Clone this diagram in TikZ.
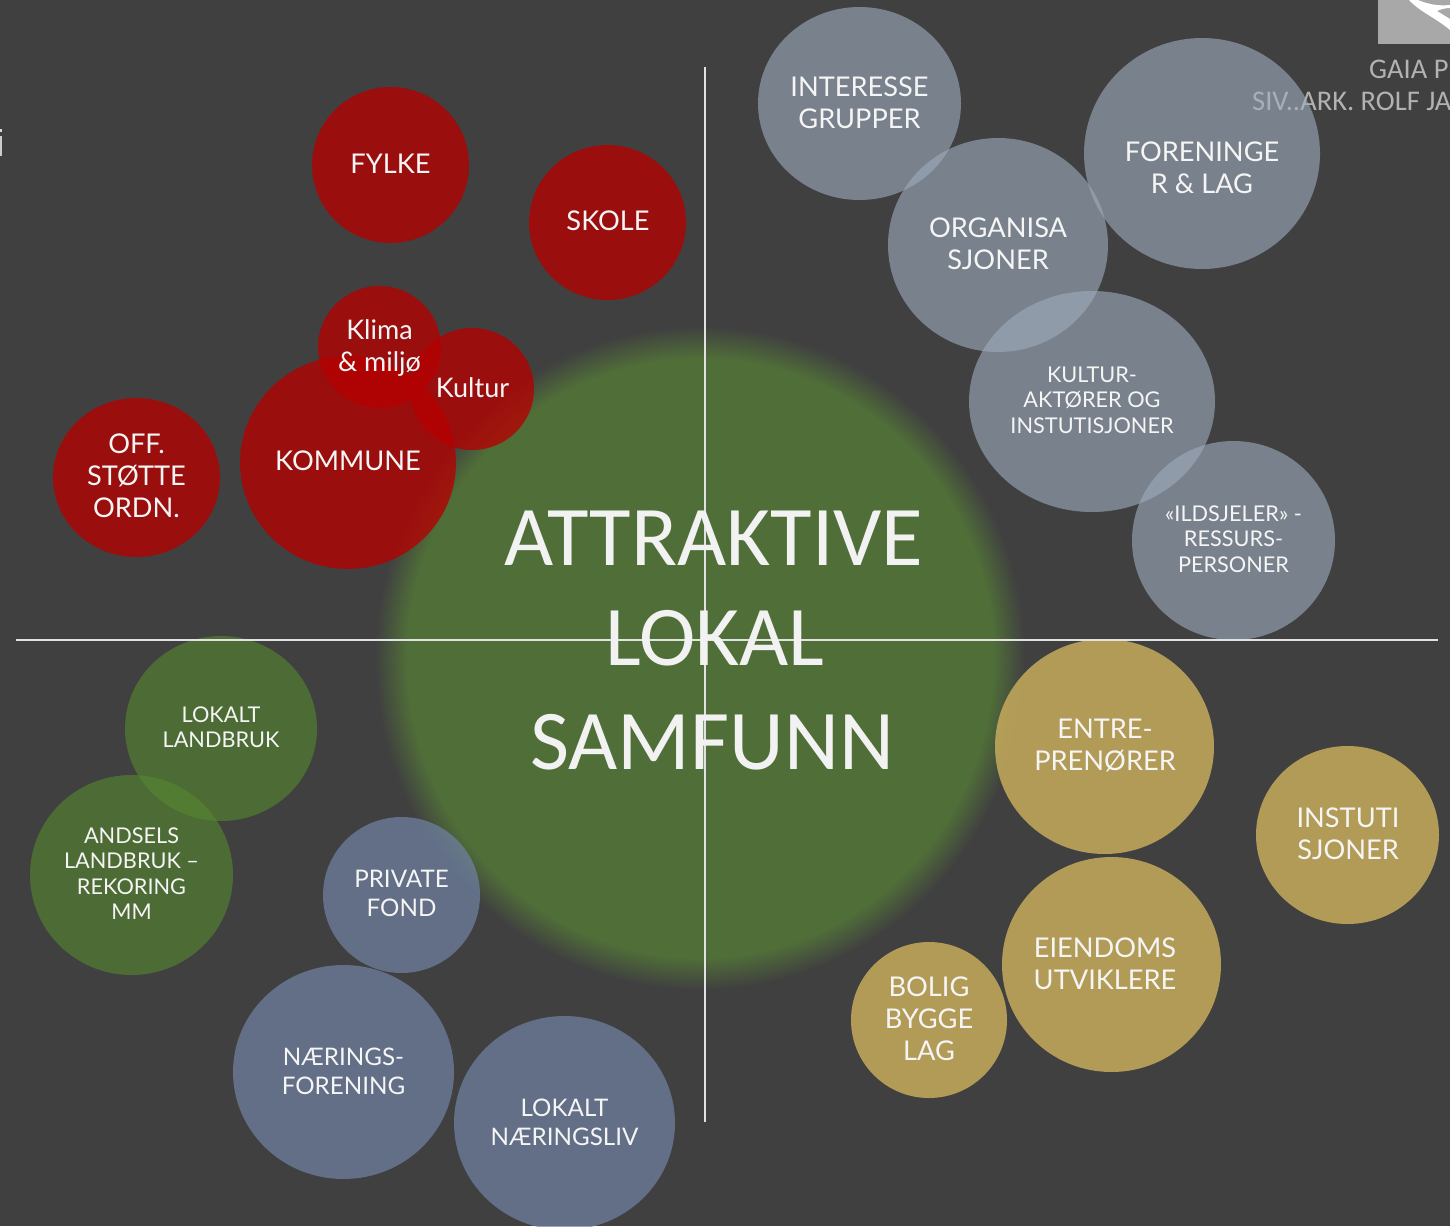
\documentclass[tikz,border=0pt]{standalone}
\usepackage{fontspec}
\setmainfont{Lato}
\newfontfamily\carl{Carlito}
\usetikzlibrary{shapes.geometric}
\definecolor{bgc}{HTML}{404040}
\definecolor{bigg}{HTML}{506F38}
\definecolor{redb}{HTML}{B50000}
\definecolor{greyb}{HTML}{A0ADBF}
\definecolor{greenb}{HTML}{56882F}
\definecolor{blueb}{HTML}{7183A6}
\definecolor{goldb}{HTML}{C6AB5C}
\pgfdeclareradialshading{glow}{\pgfpoint{0bp}{0bp}}{color(0bp)=(bigg); color(22.5bp)=(bigg); color(25bp)=(bgc); color(50bp)=(bgc)}
\tikzset{
  x=1pt,y=-1pt,
  bub/.style={ellipse,draw=none,inner sep=0pt,outer sep=0pt},
  redbub/.style={bub,fill=redb,fill opacity=.78},
  greybub/.style={bub,fill=greyb,fill opacity=.6},
  greenbub/.style={bub,fill=greenb,fill opacity=.6},
  bluebub/.style={bub,fill=blueb,fill opacity=.7},
  goldbub/.style={bub,fill=goldb,fill opacity=.85},
  lab/.style={text=white!96!black,align=center,inner sep=0pt},
  lablg/.style={lab,font=\fontsize{27.2}{32}\selectfont},
  labmd/.style={lab,font=\fontsize{24.2}{29}\selectfont},
  labkl/.style={lab,font=\fontsize{27}{32}\selectfont},
  labsm/.style={lab,font=\fontsize{21.7}{25.5}\selectfont},
  axis/.style={draw=white!85!bgc,line width=1.2pt},
  bigtext/.style={text=white!95!black,inner sep=0pt,font=\carl\fontsize{85}{85}\selectfont},
  corner/.style={text=white!70!black,inner sep=0pt,anchor=base west,font=\carl\fontsize{28.5}{28.5}\selectfont}
}
\newcommand{\bubble}[5]{\node[#1,minimum width=#4,minimum height=#5] (#2) at (#3) {};}
\begin{document}
\begin{tikzpicture}
\useasboundingbox (0,0) rectangle (1450,1226);
\clip (0,0) rectangle (1450,1226);
\fill[bgc] (0,0) rectangle (1450,1226);
% corner marks
\fill[white!66!black] (1378,0) rectangle (1450,44);
\fill[white] (1409,0) .. controls (1420,12) and (1436,18) .. (1450,30) -- (1450,19) -- (1437,11) .. controls (1441,9) and (1446,8) .. (1450,8) -- (1450,5) .. controls (1440,6) and (1430,5) .. (1418,0) -- cycle;
\fill[white!80!black] (0,136) rectangle (1.5,156);
\fill[white!85!black] (0,129) rectangle (1.5,132);
\node[corner] (gaia) at (1369,78) {GAIA PI};
\node[corner] (siv) at (1252,110) {SIV..ARK. ROLF JA};
% central glow
\path[shading=glow] (700,658) ellipse [x radius=325,y radius=332];
\coordinate (vt) at (705,67);
\coordinate (vb) at (705,1122);
\coordinate (hl) at (16,640);
\coordinate (hr) at (1438,640);
% circles
\bubble{greybub}{interesse}{859.5,103.5}{203pt}{193pt}
\bubble{greybub}{organisa}{998,245}{220pt}{214pt}
\bubble{greybub}{foreninger}{1202,153.5}{236pt}{231pt}
\bubble{greybub}{kulturakt}{1092,401.5}{246pt}{221pt}
\bubble{greybub}{ildsjeler}{1233.5,540.5}{203pt}{199pt}
\bubble{redbub}{fylke}{390.5,165}{157pt}{156pt}
\bubble{redbub}{skole}{607.5,222.5}{157pt}{155pt}
\bubble{redbub}{kommune}{348,462.5}{216pt}{213pt}
\bubble{redbub}{klima}{379.5,347}{123pt}{122pt}
\bubble{redbub}{kultur}{472,389}{124pt}{122pt}
\bubble{redbub}{off}{136.5,477.5}{167pt}{159pt}
\bubble{greenbub}{landbruk}{221,728.5}{192pt}{185pt}
\bubble{greenbub}{andsels}{131.5,875}{203pt}{200pt}
\bubble{bluebub}{private}{401.5,895}{157pt}{156pt}
\bubble{bluebub}{naerings}{343.5,1072}{221pt}{214pt}
\bubble{bluebub}{naeringsliv}{564.5,1123}{221pt}{214pt}
\bubble{goldbub}{entre}{1104.5,746.5}{219pt}{215pt}
\bubble{goldbub}{instuti}{1347.5,835}{183pt}{178pt}
\bubble{goldbub}{eiendoms}{1111.5,964.5}{219pt}{215pt}
\bubble{goldbub}{bolig}{929,1020}{156pt}{156pt}
% axes
\draw[axis] (vt) -- (vb);
\draw[axis] (hl) -- (hr);
% labels
\node[bigtext] (t1) at (714,538) {ATTRAKTIVE};
\node[bigtext] (t2) at (715,638) {LOKAL};
\node[bigtext] (t3) at (712,742) {SAMFUNN};
\node[lablg] (l1) at (859.5,102.5) {INTERESSE\\GRUPPER};
\node[lablg] (l2) at (998,243.5) {ORGANISA\\SJONER};
\node[lablg] (l3) at (1202,167.5) {FORENINGE\\R \& LAG};
\node[labsm] (l4) at (1092,400) {KULTUR-\\AKTØRER OG\\INSTUTISJONER};
\node[labsm] (l5) at (1233.5,539) {«ILDSJELER» -\\RESSURS-\\PERSONER};
\node[lablg] (l6) at (390.5,163.5) {FYLKE};
\node[lablg] (l7) at (608,221) {SKOLE};
\node[lablg] (l8) at (348,460.5) {KOMMUNE};
\node[labkl] (l9) at (379.5,348.5) {Klima\\\& miljø};
\node[labkl] (l10) at (472.5,388) {Kultur};
\node[lablg] (l11) at (136.5,475.5) {OFF.\\STØTTE\\ORDN.};
\node[labsm] (l12) at (221,727) {LOKALT\\LANDBRUK};
\node[labsm] (l13) at (131.5,873.5) {ANDSELS\\LANDBRUK –\\REKORING\\MM};
\node[labmd] (l14) at (401.5,893.5) {PRIVATE\\FOND};
\node[labmd] (l15) at (343.5,1071) {NÆRINGS-\\FORENING};
\node[labmd] (l16) at (564.5,1122) {LOKALT\\NÆRINGSLIV};
\node[lablg] (l17) at (1105,745.5) {ENTRE-\\PRENØRER};
\node[lablg] (l18) at (1348,833.5) {INSTUTI\\SJONER};
\node[lablg] (l19) at (1105,963.5) {EIENDOMS\\UTVIKLERE};
\node[lablg] (l20) at (929,1019) {BOLIG\\BYGGE\\LAG};
\end{tikzpicture}
\end{document}
